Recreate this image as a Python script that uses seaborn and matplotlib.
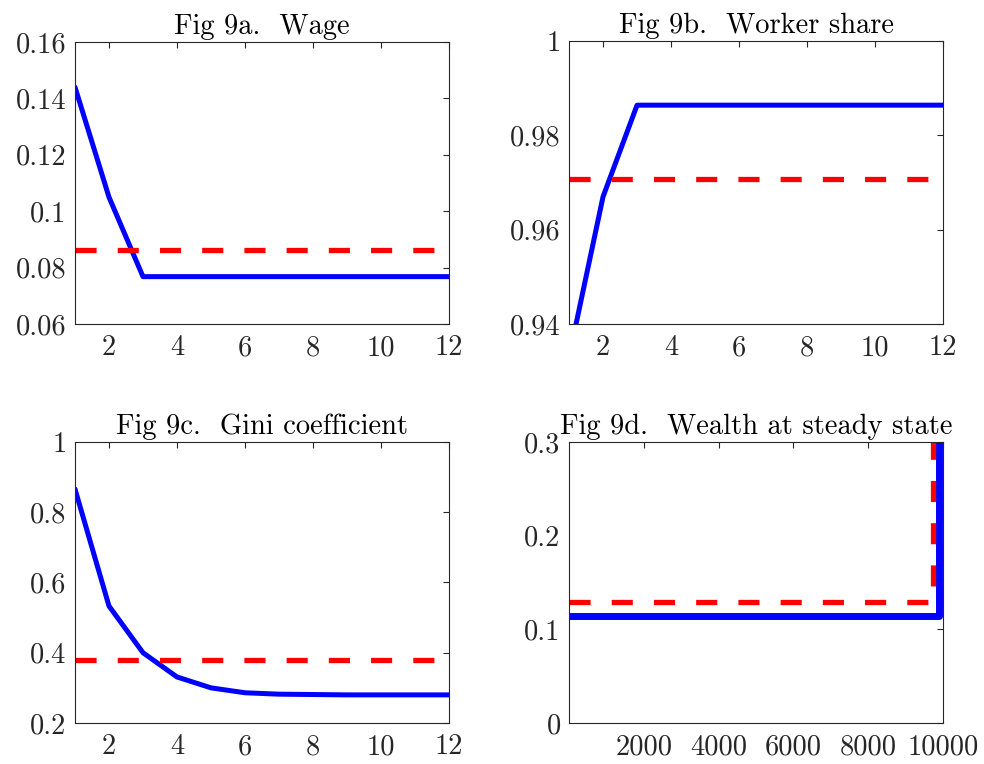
import numpy as np
import matplotlib
matplotlib.use("Agg")
import matplotlib.pyplot as plt
import seaborn as sns

# Fig 9a - wage path vs benchmark
periods = np.arange(1, 13)
wage = [0.144, 0.105, 0.0768, 0.0768, 0.0768, 0.0768, 0.0768, 0.0768, 0.0768, 0.0768, 0.0768, 0.0768]
wage_bench = [0.0862] * 12

# Fig 9b - worker share
worker_share = [0.933, 0.967, 0.9864, 0.9864, 0.9864, 0.9864, 0.9864, 0.9864, 0.9864, 0.9864, 0.9864, 0.9864]
worker_bench = [0.9708] * 12

# Fig 9c - Gini coefficient
gini = [0.866, 0.533, 0.400, 0.331, 0.300, 0.286, 0.282, 0.281, 0.280, 0.280, 0.280, 0.280]
gini_bench = [0.379] * 12

# Fig 9d - sorted wealth at steady state
agents = [1, 9890, 9890]
wealth = [0.114, 0.114, 0.40]
agents_bench = [1, 9740, 9740]
wealth_bench = [0.129, 0.129, 0.40]

panels = [
    dict(title="Fig 9a.  Wage", x=periods, y=wage, xb=periods, yb=wage_bench,
         xlim=(1, 12), ylim=(0.06, 0.16), xticks=[2, 4, 6, 8, 10, 12],
         yticks=[0.06, 0.08, 0.10, 0.12, 0.14, 0.16],
         yticklabels=["0.06", "0.08", "0.1", "0.12", "0.14", "0.16"],
         pos=[0.0762, 0.5759, 0.3801, 0.3691], lw=3.6),
    dict(title="Fig 9b.  Worker share", x=periods, y=worker_share, xb=periods, yb=worker_bench,
         xlim=(1, 12), ylim=(0.94, 1.0), xticks=[2, 4, 6, 8, 10, 12],
         yticks=[0.94, 0.96, 0.98, 1.0],
         yticklabels=["0.94", "0.96", "0.98", "1"],
         pos=[0.5783, 0.5759, 0.3801, 0.3704], lw=3.6),
    dict(title="Fig 9c.  Gini coefficient", x=periods, y=gini, xb=periods, yb=gini_bench,
         xlim=(1, 12), ylim=(0.2, 1.0), xticks=[2, 4, 6, 8, 10, 12],
         yticks=[0.2, 0.4, 0.6, 0.8, 1.0],
         yticklabels=["0.2", "0.4", "0.6", "0.8", "1"],
         pos=[0.0762, 0.0537, 0.3801, 0.3678], lw=3.6),
    dict(title="Fig 9d.  Wealth at steady state", x=agents, y=wealth, xb=agents_bench, yb=wealth_bench,
         xlim=(1, 10000), ylim=(0.0, 0.3), xticks=[2000, 4000, 6000, 8000, 10000],
         yticks=[0.0, 0.1, 0.2, 0.3],
         yticklabels=["0", "0.1", "0.2", "0.3"],
         pos=[0.5783, 0.0537, 0.3801, 0.3678], lw=5.0),
]

sns.set_theme(style="white")
plt.rcParams["font.family"] = ["cmr10", "DejaVu Serif"]
plt.rcParams["axes.formatter.use_mathtext"] = True

fig = plt.figure(figsize=(9.84, 7.64), dpi=100)
text_col = "#262626"

for p in panels:
    ax = fig.add_axes(p["pos"])
    sns.lineplot(x=p["x"], y=p["y"], ax=ax, color="#0000ff", linewidth=p["lw"],
                 sort=False, estimator=None)
    sns.lineplot(x=p["xb"], y=p["yb"], ax=ax, color="#ff0000", linewidth=3.8,
                 sort=False, estimator=None)
    ax.lines[-1].set_dashes((4.0, 4.0))
    ax.set_xlim(p["xlim"])
    ax.set_ylim(p["ylim"])
    ax.set_xticks(p["xticks"])
    ax.set_xticklabels([str(t) for t in p["xticks"]])
    ax.set_yticks(p["yticks"])
    ax.set_yticklabels(p["yticklabels"])
    ax.set_title(p["title"], fontsize=20.5, color="black", pad=6)
    ax.tick_params(direction="in", length=4, width=0.8, top=True, right=True,
                   labelsize=20.5, colors=text_col)
    ax.tick_params(axis="x", pad=8)
    ax.tick_params(axis="y", pad=6)
    for s in ax.spines.values():
        s.set_visible(True)
        s.set_color(text_col)
        s.set_linewidth(0.8)
    ax.set_xlabel("")
    ax.set_ylabel("")

fig.savefig("out.png", dpi=100)
